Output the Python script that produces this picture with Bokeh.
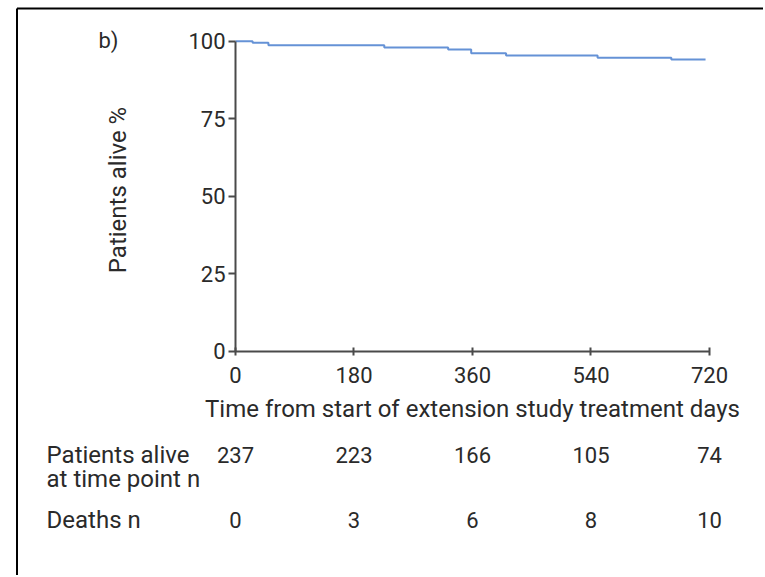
from bokeh.plotting import figure
from bokeh.models import FixedTicker
from bokeh.core.properties import value
from bokeh.embed import file_html
from bokeh.resources import INLINE

# Kaplan-Meier survival estimate (days from start of extension study, % alive)
days = [0, 26, 50, 226, 323, 358, 411, 550, 662, 714]
alive_pct = [100, 99.5, 98.7, 98.0, 97.3, 96.1, 95.4, 94.7, 94.1, 94.1]

# Numbers-at-risk table
table_days = [0, 180, 360, 540, 720]
patients_alive = [237, 223, 166, 105, 74]
deaths = [0, 3, 6, 8, 10]

x_ticks = [0, 180, 360, 540, 720]
y_ticks = [0, 25, 50, 75, 100]

FONT = "Roboto"
TICK_FS = "22px"
FS = "24px"
TXT = "#2a2a2a"

W, H = 763, 575
KX, KY = 0.65833, 3.1          # pixels per day, pixels per percent
X0 = -235 / KX
X1 = X0 + W / KX
Y1 = 100 + 40.7 / KY
Y0 = Y1 - H / KY

p = figure(width=W, height=H, x_range=(X0, X1), y_range=(Y0, Y1),
           output_backend="svg", toolbar_location=None, min_border=0)
p.outline_line_color = None
p.grid.visible = False

# panel frame: top and left rules
fx = X0 + 16.5 / KX
fy = Y1 - 8 / KY
p.segment(x0=[fx, fx], y0=[fy, fy], x1=[X1, fx], y1=[fy, Y0],
          line_color="black", line_width=2)

p.step(days, alive_pct, mode="after", line_color="#6592d6", line_width=2)

for ax in (p.xaxis[0], p.yaxis[0]):
    ax.axis_line_color = "#4a4a4a"
    ax.axis_line_width = 2
    ax.major_tick_line_color = "#4a4a4a"
    ax.major_tick_line_width = 2
    ax.minor_tick_line_color = None
    ax.major_label_text_font = FONT
    ax.major_label_text_font_size = TICK_FS
    ax.major_label_text_color = TXT

p.xaxis.fixed_location = 0
p.yaxis.fixed_location = 0
p.xaxis.bounds = (0, 720)
p.yaxis.bounds = (0, 100)
p.xaxis.ticker = FixedTicker(ticks=x_ticks)
p.yaxis.ticker = FixedTicker(ticks=y_ticks)
p.xaxis.major_tick_in = 4
p.xaxis.major_tick_out = 4
p.yaxis.major_tick_in = 0
p.yaxis.major_tick_out = 7
p.xaxis.major_label_standoff = 12
p.yaxis.major_label_standoff = 3

def txt(x, y, s, align="center", angle=0.0, size=FS):
    p.text(x=x, y=y, text=s, text_font=value(FONT), text_font_size=size,
           text_color=TXT, text_align=align, text_baseline="middle", angle=angle)

# axis titles and panel letter
txt([360], [-18.5], ["Time from start of extension study treatment days"])
txt([-178], [52], ["Patients alive %"], angle=1.5708)
txt([-193], [100.3], ["b)"], size=TICK_FS)

# numbers-at-risk rows
txt(table_days, [-33.6] * 5, [str(v) for v in patients_alive], size=TICK_FS)
txt(table_days, [-54.6] * 5, [str(v) for v in deaths], size=TICK_FS)
txt([-287, -287, -287], [-33.6, -41.1, -54.6],
    ["Patients alive", "at time point n", "Deaths n"], align="left")

open("out.html", "w").write(file_html(p, INLINE))
